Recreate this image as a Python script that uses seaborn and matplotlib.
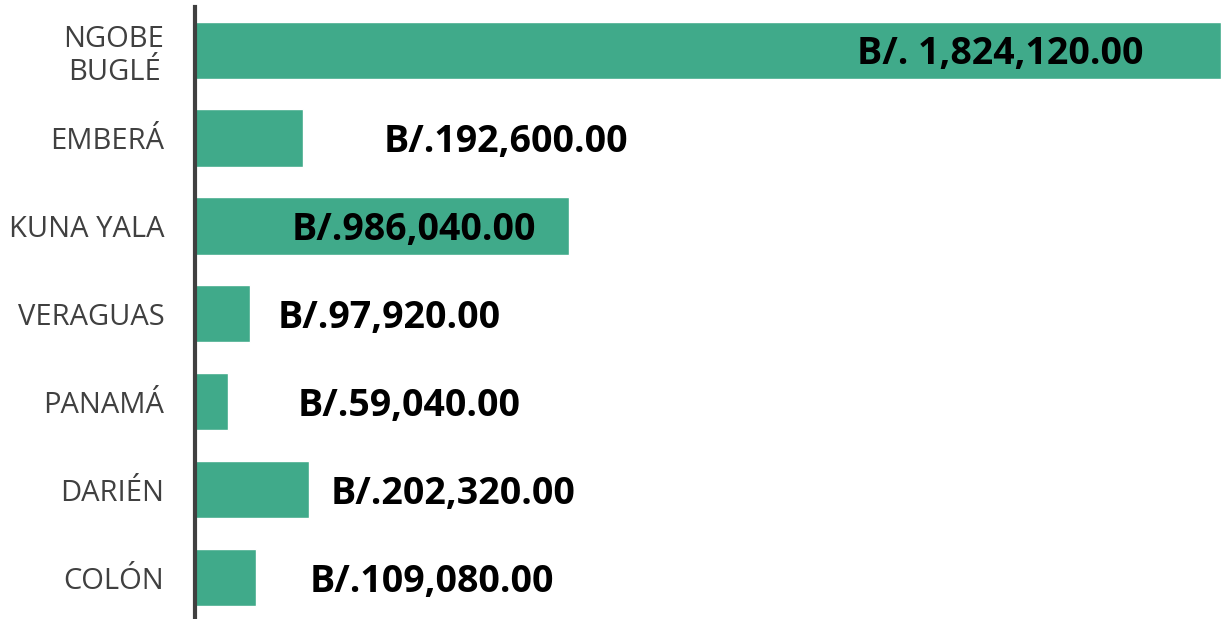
import pandas as pd
import matplotlib.pyplot as plt
import seaborn as sns

# Datos
comarcas = ['NGOBE\nBUGLÉ', 'EMBERÁ', 'KUNA YALA', 'VERAGUAS', 'PANAMÁ', 'DARIÉN', 'COLÓN']
montos = [1824120, 192600, 665000, 97920, 59040, 202320, 109080]
etiquetas = ['B/. 1,824,120.00', 'B/.192,600.00', 'B/.986,040.00', 'B/.97,920.00',
             'B/.59,040.00', 'B/.202,320.00', 'B/.109,080.00']
# posicion izquierda de cada etiqueta (fraccion del eje x)
pos_etiqueta = [0.645, 0.184, 0.094, 0.081, 0.100, 0.132, 0.112]

df = pd.DataFrame({'comarca': comarcas, 'monto': montos})

sns.set_theme(style='white')
plt.rcParams['font.family'] = ['Open Sans', 'DejaVu Sans']

fig = plt.figure(figsize=(12.21, 6.19), dpi=100)
ax = fig.add_axes([195 / 1221, 0, 1 - 195 / 1221, 612 / 619])

sns.barplot(data=df, x='monto', y='comarca', orient='h', color='#40AA8A',
            saturation=1, width=0.65, ax=ax)

xmax = max(montos)
ax.set_xlim(0, xmax)
ax.set_ylim(6.47, -0.49)

for i, (txt, p) in enumerate(zip(etiquetas, pos_etiqueta)):
    ax.text(p * xmax, i + 0.05, txt, ha='left', va='center', fontsize=27,
            fontweight='bold', color='black')

ax.set_xlabel('')
ax.set_ylabel('')
ax.set_xticks([])
ax.tick_params(axis='y', length=0, pad=22, labelsize=21, labelcolor='#404040')
for lbl in ax.get_yticklabels():
    lbl.set_multialignment('center')

for s in ['top', 'right', 'bottom']:
    ax.spines[s].set_visible(False)
ax.spines['left'].set_color('#404040')
ax.spines['left'].set_linewidth(3)

fig.savefig('out.png', dpi=100)
plt.close(fig)
